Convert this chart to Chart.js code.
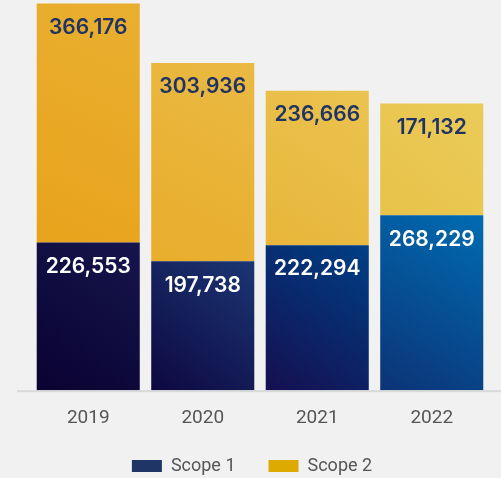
<!DOCTYPE html>
<html>
<head>
<meta charset="utf-8">
<script src="https://cdn.jsdelivr.net/npm/chart.js@4"></script>
<style>
html,body{margin:0;padding:0;background:#f0f1f0;}
#wrap{width:501px;height:478px;}
</style>
</head>
<body>
<div id="wrap"><canvas id="c" width="501" height="478"></canvas></div>
<script>
const years = ['2019', '2020', '2021', '2022'];
const scope1 = [226553, 197738, 222294, 268229];
const scope2 = [366176, 303936, 236666, 171132];
const seriesNames = ['Scope 1', 'Scope 2'];

// per-bar gradient stops (bottom-left -> top-right)
const scope1Grad = [
  ['#0a0232', '#16154c'],
  ['#0e0840', '#1b3674'],
  ['#150f50', '#003f85'],
  ['#0c3376', '#006cb2']
];
const scope2Grad = [
  ['#e8a31c', '#e9af30'],
  ['#e8ad2c', '#eab942'],
  ['#e8b63a', '#eac350'],
  ['#e8c24a', '#eacb58']
];
const legendColors = ['#1f3566', '#dcaa00'];

function gradFor(stops, isTop) {
  return function (ctx) {
    const chart = ctx.chart;
    const area = chart.chartArea;
    if (!area || ctx.type !== 'data') return stops[ctx.dataIndex][0];
    const xs = chart.scales.x;
    const ys = chart.scales.y;
    const i = ctx.dataIndex;
    const cx = xs.getPixelForValue(i);
    const y0 = isTop ? ys.getPixelForValue(scope1[i]) : ys.getPixelForValue(0);
    const y1 = isTop ? ys.getPixelForValue(scope1[i] + scope2[i]) : ys.getPixelForValue(scope1[i]);
    const g = chart.ctx.createLinearGradient(cx - 52, y0, cx + 52, y1);
    const s = stops[i];
    g.addColorStop(0, s[0]);
    g.addColorStop(1, s[1]);
    return g;
  };
}

const labelPlugin = {
  id: 'barLabels',
  afterDatasetsDraw(chart) {
    const c = chart.ctx;
    c.save();
    c.font = '600 21px Inter, "Open Sans", sans-serif';
    c.textAlign = 'center';
    c.textBaseline = 'middle';
    chart.data.datasets.forEach((ds, di) => {
      const meta = chart.getDatasetMeta(di);
      meta.data.forEach((el, i) => {
        const top = Math.min(el.y, el.base);
        c.fillStyle = di === 0 ? '#ffffff' : '#1f3364';
        c.fillText(ds.data[i].toLocaleString('en-US'), el.x, top + 24);
      });
    });
    c.restore();
  }
};

const baselinePlugin = {
  id: 'baseline',
  beforeDatasetsDraw(chart) {
    const c = chart.ctx;
    const y = chart.chartArea.bottom;
    c.save();
    c.fillStyle = '#d8d9d9';
    c.fillRect(17, y, chart.width - 17, 2);
    c.restore();
  }
};

// wider horizontal gap between legend items without extra vertical space
const LEGEND_TRIM = 15;
const LEGEND_SHIFT = 8;
const legendTrimPlugin = {
  id: 'legendTrim',
  afterInit(chart) {
    const lg = chart.legend;
    if (!lg) return;
    const fit = lg.fit;
    lg.fit = function () { fit.apply(this, arguments); this.height -= LEGEND_TRIM; };
    const draw = lg.draw;
    lg.draw = function () {
      const t = this.top, l = this.left, r = this.right;
      this.top = t - LEGEND_TRIM;
      this.left = l - LEGEND_SHIFT;
      this.right = r - LEGEND_SHIFT;
      draw.apply(this, arguments);
      this.top = t; this.left = l; this.right = r;
    };
  }
};

new Chart(document.getElementById('c'), {
  type: 'bar',
  data: {
    labels: years,
    datasets: [
      { label: seriesNames[0], data: scope1, backgroundColor: gradFor(scope1Grad, false), borderWidth: 0 },
      { label: seriesNames[1], data: scope2, backgroundColor: gradFor(scope2Grad, true), borderWidth: 0 }
    ]
  },
  options: {
    responsive: false,
    animation: false,
    maintainAspectRatio: false,
    layout: { padding: { left: 31, right: 12, top: 2, bottom: -7 } },
    datasets: { bar: { barPercentage: 0.9, categoryPercentage: 1.0 } },
    scales: {
      x: {
        stacked: true,
        grid: { display: false },
        border: { display: false },
        ticks: { color: '#555555', font: { family: 'Roboto, "Liberation Sans", sans-serif', size: 19 }, padding: 9 }
      },
      y: {
        stacked: true,
        display: false,
        min: 0,
        max: 595000
      }
    },
    plugins: {
      legend: {
        position: 'bottom',
        labels: {
          generateLabels(chart) {
            return seriesNames.map((n, i) => ({
              text: n, fillStyle: legendColors[i], strokeStyle: legendColors[i], lineWidth: 0,
              datasetIndex: i, fontColor: '#555555'
            }));
          },
          boxWidth: 30,
          boxHeight: 12,
          padding: 33,
          color: '#555555',
          font: { family: 'Roboto, "Liberation Sans", sans-serif', size: 18 }
        }
      },
      tooltip: { enabled: false }
    }
  },
  plugins: [legendTrimPlugin, baselinePlugin, labelPlugin]
});
</script>
</body>
</html>
